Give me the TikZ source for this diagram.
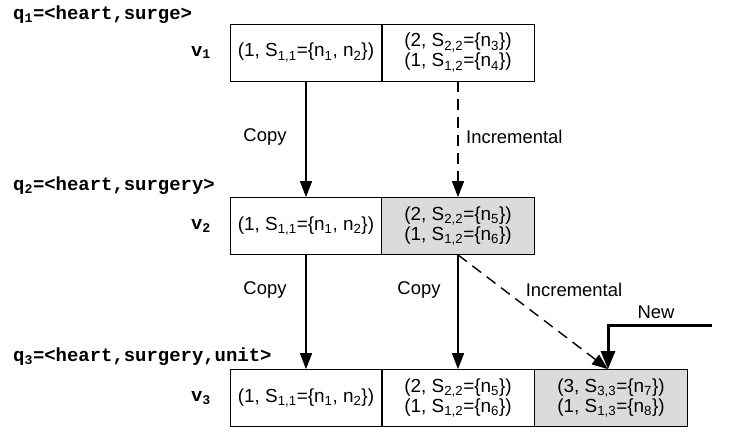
\documentclass[tikz,border=0pt]{standalone}
\usepackage{fontspec}
\setmainfont{Liberation Sans}
\newfontfamily\monob{Liberation Mono}[BoldFont={Liberation Mono Bold}]
\usetikzlibrary{arrows.meta,calc}
\newcommand\sbs[1]{\textsubscript{#1}}
\begin{document}
\begin{tikzpicture}[x=1bp,y=-1bp,
  cell/.style={draw,line width=0.8bp,minimum width=152bp,minimum height=57bp,inner sep=0pt,align=center,font=\fontsize{19}{20}\selectfont},
  gcell/.style={cell,fill=black!14},
  qlab/.style={anchor=west,inner sep=0pt,font=\fontsize{19}{20}\monob\bfseries},
  vlab/.style={inner sep=0pt,font=\fontsize{19}{20}\monob\bfseries},
  lab/.style={inner sep=0pt,font=\fontsize{18.5}{20}\selectfont},
  arr/.style={line width=1.4bp,-{Triangle[length=16bp,width=12bp]}},
  darr/.style={arr,dash pattern=on 11bp off 7bp},
  narr/.style={line width=3bp,-{Triangle[length=18bp,width=14bp]}}]
\useasboundingbox (0,0) rectangle (732,431);
% row 1
\node[qlab] (q1) at (13,15) {q\sbs{1}=<heart,surge>};
\node[cell] (a1) at (306,52.5) {(1, S\sbs{1,1}=\{n\sbs{1}, n\sbs{2}\})};
\node[cell,minimum width=153bp] (b1) at (458,52.5) {(2, S\sbs{2,2}=\{n\sbs{3}\})\\(1, S\sbs{1,2}=\{n\sbs{4}\})};
\node[vlab] (v1) at (201,52.5) {v\sbs{1}};
% row 2
\node[qlab] (q2) at (13,186) {q\sbs{2}=<heart,surgery>};
\node[cell] (a2) at (306,226) {(1, S\sbs{1,1}=\{n\sbs{1}, n\sbs{2}\})};
\node[gcell,minimum width=153bp] (b2) at (458,226) {(2, S\sbs{2,2}=\{n\sbs{5}\})\\(1, S\sbs{1,2}=\{n\sbs{6}\})};
\node[vlab] (v2) at (201,226) {v\sbs{2}};
% row 3
\node[qlab] (q3) at (13,357) {q\sbs{3}=<heart,surgery,unit>};
\node[cell] (a3) at (306,398) {(1, S\sbs{1,1}=\{n\sbs{1}, n\sbs{2}\})};
\node[cell,minimum width=153bp] (b3) at (458,398) {(2, S\sbs{2,2}=\{n\sbs{5}\})\\(1, S\sbs{1,2}=\{n\sbs{6}\})};
\node[gcell,minimum width=153bp] (c3) at (611,398) {(3, S\sbs{3,3}=\{n\sbs{7}\})\\(1, S\sbs{1,3}=\{n\sbs{8}\})};
\node[vlab] (v3) at (201,398) {v\sbs{3}};
% connectors
\coordinate (tgt) at ($(c3.north)+(-3,0)$);
\coordinate (nstart) at (712,325);
\draw[arr] (a1.south) -- (a2.north);
\draw[darr] (b1.south) -- (b2.north);
\draw[arr] (a2.south) -- (a3.north);
\draw[arr] (b2.south) -- (b3.north);
\draw[darr] (b2.south) -- (tgt);
\draw[narr] (nstart) -| (tgt);
% labels
\node[lab] (l1) at (265,137) {Copy};
\node[lab,anchor=west] (l2) at (466,137) {Incremental};
\node[lab] (l3) at (265,290) {Copy};
\node[lab] (l4) at (419,290) {Copy};
\node[lab] (l5) at (574,290) {Incremental};
\node[lab] (l6) at (656,312) {New};
\end{tikzpicture}
\end{document}
